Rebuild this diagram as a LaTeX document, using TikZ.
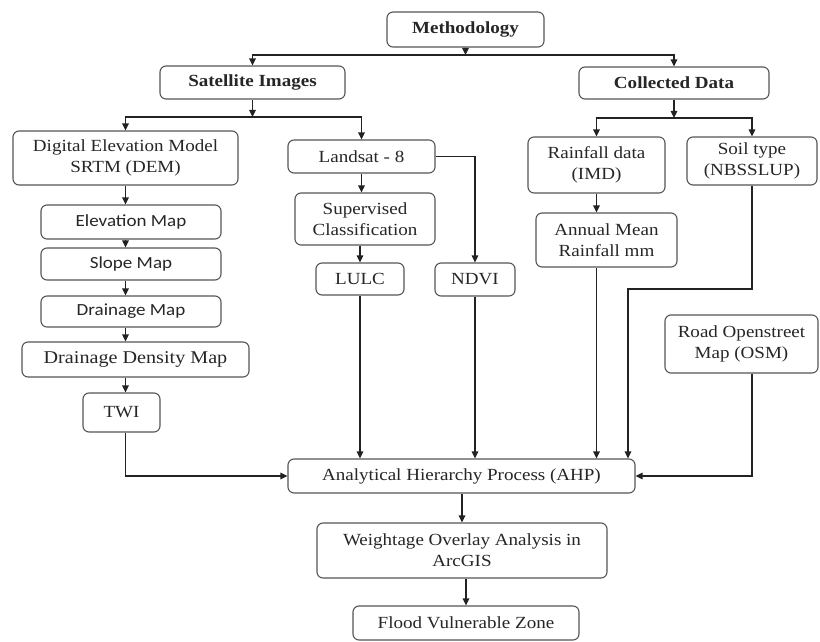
\documentclass[tikz,border=0pt]{standalone}
\usepackage{fontspec}
\setmainfont{Liberation Serif}[FakeStretch=1.12]
\newfontfamily\calfont{Carlito}[FakeStretch=1.12]
\usetikzlibrary{arrows.meta}
\definecolor{boxc}{HTML}{555555}
\definecolor{linec}{HTML}{222222}
\newcommand\myfs{\fontsize{17}{21}\selectfont}
\tikzset{
  box/.style={draw=boxc, line width=1.1pt, rounded corners=6pt, align=center, inner sep=2pt, font=\myfs, text=black!85},
  arr/.style={draw=linec, line width=1.2pt, -{Triangle[length=7pt,width=6.5pt]}},
}
\begin{document}
\begin{tikzpicture}[x=1pt,y=-1pt]
\fill[white] (0,0) rectangle (820,642);
\useasboundingbox (0,0) rectangle (820,642);
% nodes
\node[box, minimum width=157pt, minimum height=35pt] (meth) at (465.5,29.5) {\bfseries Methodology};
\node[box, minimum width=185pt, minimum height=33pt] (sat) at (252.5,82.5) {\bfseries Satellite Images};
\node[box, minimum width=190pt, minimum height=32pt] (coll) at (674,83) {\bfseries Collected Data};
\node[box, minimum width=225pt, minimum height=54pt] (dem) at (125.5,158) {Digital Elevation Model\\SRTM (DEM)};
\node[box, minimum width=147pt, minimum height=33pt] (land) at (361.5,156.5) {Landsat - 8};
\node[box, minimum width=137pt, minimum height=56pt] (rain) at (596.5,165) {Rainfall data\\(IMD)};
\node[box, minimum width=130pt, minimum height=48pt] (soil) at (752,161) {Soil type\\(NBSSLUP)};
\node[box, minimum width=180pt, minimum height=34pt, font=\calfont\fontsize{17}{21}\selectfont] (elev) at (131,222) {Elevation Map};
\node[box, minimum width=180pt, minimum height=32pt, font=\calfont\fontsize{17}{21}\selectfont] (slope) at (131,264) {Slope Map};
\node[box, minimum width=180pt, minimum height=31pt, font=\calfont\fontsize{17}{21}\selectfont] (drain) at (131,311.5) {Drainage Map};
\node[box, minimum width=227pt, minimum height=35pt, font=\fontsize{18}{21}\selectfont] (dd) at (135.5,359.5) {Drainage Density Map};
\node[box, minimum width=77pt, minimum height=39pt] (twi) at (121.5,412.5) {TWI};
\node[box, minimum width=140pt, minimum height=52pt] (sup) at (365,219) {Supervised\\Classification};
\node[box, minimum width=88pt, minimum height=32pt] (lulc) at (360,279) {LULC};
\node[box, minimum width=80pt, minimum height=33pt] (ndvi) at (475,279.5) {NDVI};
\node[box, minimum width=141pt, minimum height=54pt] (annual) at (606.5,240) {Annual Mean\\Rainfall mm};
\node[box, minimum width=153pt, minimum height=58pt] (osm) at (741.5,344) {Road Openstreet\\Map (OSM)};
\node[box, minimum width=347pt, minimum height=34pt] (ahp) at (461.5,476) {Analytical Hierarchy Process (AHP)};
\node[box, minimum width=290pt, minimum height=55pt] (wt) at (462,550.5) {Weightage Overlay Analysis in\\ArcGIS};
\node[box, minimum width=226pt, minimum height=34pt] (flood) at (466,623) {Flood Vulnerable Zone};
% junctions
\coordinate (j1) at (465.5,55);
\coordinate (j2) at (252.5,117);
\coordinate (j3) at (674,118);
\coordinate (s1) at (628,289);
% connectors
\draw[arr] (meth.south) -- (j1);
\draw[arr] (j1) -| (sat.north);
\draw[arr] (j1) -| (coll.north);
\draw[arr] (sat.south) -- (j2);
\draw[arr] (j2) -| (dem.north);
\draw[arr] (j2) -| (land.north);
\draw[arr] (coll.south) -- (j3);
\draw[arr] (j3) -| (rain.north);
\draw[arr] (j3) -| (soil.north);
\draw[arr] (dem.south) -- (dem.south |- elev.north);
\draw[arr] (dem.south |- elev.south) -- (dem.south |- slope.north);
\draw[arr] (dem.south |- slope.south) -- (dem.south |- drain.north);
\draw[arr] (dem.south |- drain.south) -- (dem.south |- dd.north);
\draw[arr] (dem.south |- dd.south) -- (dem.south |- twi.north);
\draw[arr] (dem.south |- twi.south) |- (ahp.west);
\draw[arr] (land.south) -- (land.south |- sup.north);
\draw[arr] (lulc.north |- sup.south) -- (lulc.north);
\draw[arr] (lulc.south) -- (lulc.south |- ahp.north);
\draw[arr] (land.east) -| (ndvi.north);
\draw[arr] (ndvi.south) -- (ndvi.south |- ahp.north);
\draw[arr] (rain.south) -- (rain.south |- annual.north);
\draw[arr] (rain.south |- annual.south) -- (rain.south |- ahp.north);
\draw[arr] (soil.south) |- (s1) -- (s1 |- ahp.north);
\draw[arr] (osm.south -| soil.south) |- (ahp.east);
\draw[arr] (ahp.south -| wt.north) -- (wt.north);
\draw[arr] (wt.south -| flood.north) -- (flood.north);
\end{tikzpicture}
\end{document}
